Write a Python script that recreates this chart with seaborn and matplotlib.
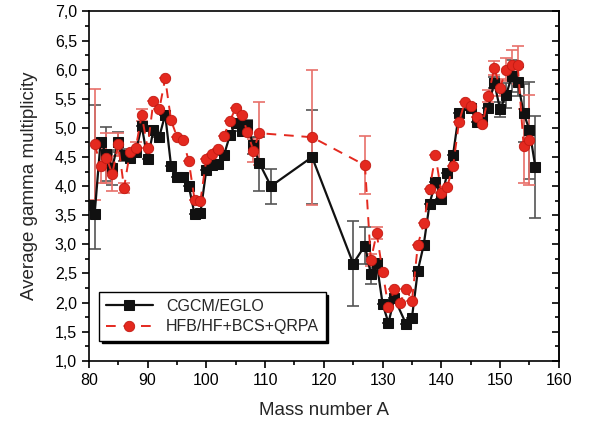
import numpy as np
import pandas as pd
import seaborn as sns
import matplotlib
matplotlib.use("Agg")
import matplotlib.pyplot as plt
from matplotlib.ticker import MultipleLocator, FuncFormatter

# CGCM/EGLO
A_cg = [80, 81, 82, 83, 84, 85, 86, 87, 88, 89, 90, 91, 92, 93, 94, 95, 96, 97, 98, 99,
        100, 101, 102, 103, 104, 105, 106, 107, 108, 109, 111, 118, 125, 127, 128, 129,
        130, 131, 132, 134, 135, 136, 137, 138, 139, 140, 141, 142, 143, 145, 146, 147,
        148, 149, 150, 151, 152, 153, 154, 155, 156]
M_cg = [3.68, 3.53, 4.76, 4.55, 4.32, 4.76, 4.53, 4.49, 4.59, 5.04, 4.46, 4.96, 4.85, 5.23,
        4.35, 4.15, 4.16, 4.01, 3.52, 3.54, 4.28, 4.36, 4.38, 4.53, 4.87, 5.09, 4.94, 5.05,
        4.70, 4.40, 4.00, 4.50, 2.67, 2.98, 2.49, 2.68, 1.98, 1.65, 2.08, 1.63, 1.74, 2.55,
        2.99, 3.70, 4.07, 3.78, 4.22, 4.54, 5.26, 5.35, 5.10, 5.16, 5.35, 5.78, 5.32, 5.56,
        5.89, 5.79, 5.26, 4.96, 4.33]
E_cg_lo = {81: 0.61, 83: 0.47, 84: 0.30, 85: 0.17, 86: 0.10, 107: 0.08, 108: 0.15,
           109: 0.48, 111: 0.30, 118: 0.80, 125: 0.73, 127: 0.32, 128: 0.17,
           149: 0.10, 150: 0.13, 151: 0.22, 152: 0.28, 153: 0.25, 154: 0.50,
           155: 0.83, 156: 0.88}
E_cg_hi = {81: 1.86, 83: 0.47, 84: 0.30, 85: 0.17, 86: 0.10, 107: 0.08, 108: 0.15,
           109: 0.45, 111: 0.30, 118: 0.80, 125: 0.73, 127: 0.32, 128: 0.17,
           149: 0.10, 150: 0.13, 151: 0.22, 152: 0.28, 153: 0.25, 154: 0.50,
           155: 0.83, 156: 0.88}

# HFB/HF+BCS+QRPA
A_hf = [81, 82, 83, 84, 85, 86, 87, 88, 89, 90, 91, 92, 93, 94, 95, 96, 97, 98, 99, 100,
        101, 102, 103, 104, 105, 106, 107, 108, 109, 118, 127, 128, 129, 130, 131, 132,
        133, 134, 135, 136, 137, 138, 139, 140, 141, 142, 143, 144, 145, 146, 147, 148,
        149, 150, 151, 152, 153, 154, 155]
M_hf = [4.72, 4.35, 4.49, 4.21, 4.72, 3.97, 4.59, 4.66, 5.22, 4.66, 5.46, 5.32, 5.85, 5.13,
        4.85, 4.79, 4.44, 3.77, 3.75, 4.46, 4.56, 4.64, 4.86, 5.12, 5.34, 5.23, 4.93, 4.61,
        4.91, 4.84, 4.36, 2.73, 3.19, 2.53, 1.92, 2.23, 2.00, 2.24, 2.03, 2.99, 3.36, 3.95,
        4.53, 3.89, 3.99, 4.34, 5.10, 5.45, 5.37, 5.18, 5.06, 5.55, 6.03, 5.69, 6.00, 6.08,
        6.08, 4.69, 4.79]
E_hf = {81: 0.95, 82: 0.30, 83: 0.43, 84: 0.30, 85: 0.20, 86: 0.08, 88: 0.10, 89: 0.10,
        108: 0.20, 109: 0.54, 118: 1.16, 127: 0.50, 128: 0.10, 129: 0.10, 148: 0.10,
        149: 0.12, 150: 0.15, 151: 0.20, 152: 0.25, 153: 0.33, 154: 0.63, 155: 0.77}

df_cg = pd.DataFrame({"A": A_cg, "M": M_cg})
df_hf = pd.DataFrame({"A": A_hf, "M": M_hf})

sns.set_style("ticks")
plt.rcParams['font.family'] = ['Liberation Sans', 'DejaVu Sans']

fig = plt.figure(figsize=(5.92, 4.25), dpi=100)
ax = fig.add_axes([0.150, 0.151, 0.794, 0.822])

# error bars
lo = [E_cg_lo.get(a, 0) for a in A_cg]
hi = [E_cg_hi.get(a, 0) for a in A_cg]
ax.errorbar(A_cg, M_cg, yerr=[lo, hi], fmt='none', ecolor='#555555', elinewidth=1.2,
            capsize=4, capthick=1.2, zorder=2)
eh = [E_hf.get(a, 0) for a in A_hf]
ax.errorbar(A_hf, M_hf, yerr=eh, fmt='none', ecolor='#e8706a', elinewidth=1.2,
            capsize=4, capthick=1.2, zorder=2)

sns.lineplot(data=df_cg, x="A", y="M", ax=ax, color='#111111', marker='s',
             markersize=7, markeredgecolor='#111111', linewidth=1.6,
             label='CGCM/EGLO', zorder=3)
sns.lineplot(data=df_hf, x="A", y="M", ax=ax, color='#e4291f', marker='o',
             markersize=7.5, markeredgecolor='#c21a12', markeredgewidth=0.6,
             linewidth=1.4, linestyle=(0, (5, 4)), label='HFB/HF+BCS+QRPA', zorder=4)

ax.set_xlim(80, 160)
ax.set_ylim(1.0, 7.0)
ax.xaxis.set_major_locator(MultipleLocator(10))
ax.xaxis.set_minor_locator(MultipleLocator(5))
ax.yaxis.set_major_locator(MultipleLocator(0.5))
ax.yaxis.set_minor_locator(MultipleLocator(0.25))
ax.yaxis.set_major_formatter(FuncFormatter(lambda v, p: f"{v:.1f}".replace('.', ',')))

for s in ax.spines.values():
    s.set_linewidth(1.2)
    s.set_color('black')
ax.tick_params(which='both', direction='out', top=False, right=False,
               labelsize=11.5, width=1.2, colors='black')
ax.tick_params(which='major', length=5)
ax.tick_params(which='minor', length=3)

# inward mirror ticks on the right side
sec = ax.secondary_yaxis('right')
sec.yaxis.set_major_locator(MultipleLocator(0.5))
sec.yaxis.set_minor_locator(MultipleLocator(0.25))
sec.tick_params(which='both', direction='in', labelright=False, width=1.2, colors='black')
sec.tick_params(which='major', length=5)
sec.tick_params(which='minor', length=3)
sec.spines['right'].set_linewidth(1.2)

ax.set_xlabel("Mass number A", fontsize=13.5, labelpad=10)
ax.set_ylabel("Average gamma multiplicity", fontsize=13.5, labelpad=12)

leg = ax.legend(loc='lower left', bbox_to_anchor=(0.022, 0.058), borderaxespad=0,
                fontsize=11.5, frameon=True, fancybox=False, edgecolor='black',
                framealpha=1, shadow={'color': 'black', 'alpha': 1},
                handlelength=3.0, borderpad=0.4, labelspacing=0.35)
leg.get_frame().set_linewidth(1.0)

fig.savefig("out.png", dpi=100)
